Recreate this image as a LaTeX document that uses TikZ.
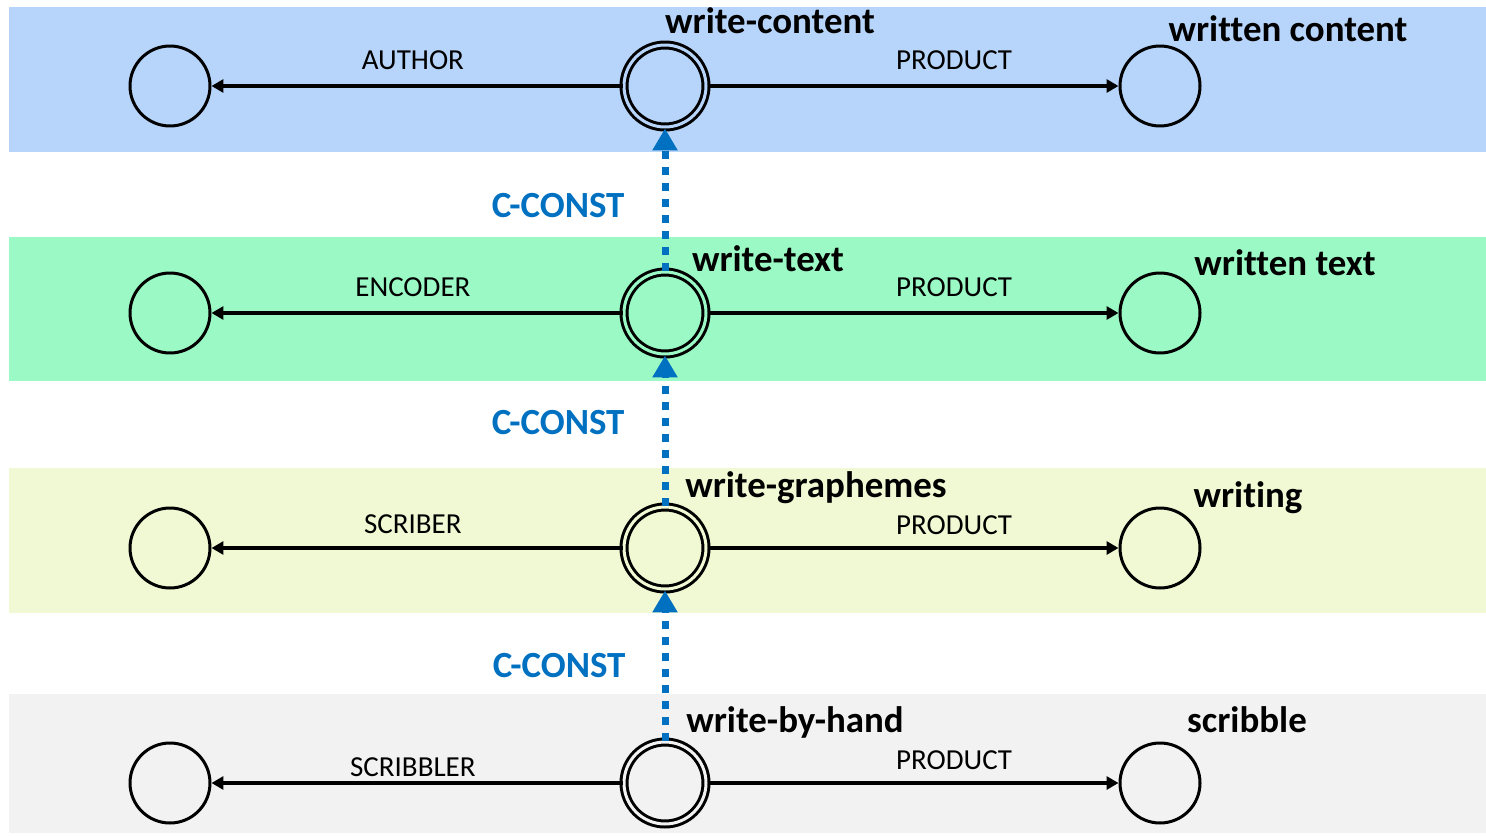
\documentclass[tikz,border=0pt]{standalone}
\usepackage{fontspec}
\setmainfont{Carlito}[Ligatures=NoCommon]
\usetikzlibrary{arrows.meta, positioning}

\definecolor{bandblue}{RGB}{183,213,250}
\definecolor{bandgreen}{RGB}{155,249,197}
\definecolor{bandyellow}{RGB}{240,249,211}
\definecolor{bandgray}{RGB}{242,242,242}
\definecolor{constblue}{RGB}{0,112,192}

\tikzset{
  role/.style={circle, draw, line width=0.06cm, minimum size=1.6cm, inner sep=0pt},
  event/.style={circle, draw, line width=0.06cm, double distance=0.06cm, minimum size=1.64cm, inner sep=0pt},
  link/.style={line width=0.065cm, -{Triangle[length=0.24cm, width=0.26cm]}},
  constlink/.style={constblue, line width=0.14cm, dash pattern=on 0.16cm off 0.16cm,
    -{Triangle[length=0.44cm, width=0.48cm]}},
  rolelabel/.style={inner sep=0pt, font=\fontsize{16.5}{18}\selectfont},
  title/.style={anchor=base, inner sep=0pt, font=\fontsize{21}{24}\selectfont\bfseries},
  constlabel/.style={inner sep=0pt, text=constblue, font=\fontsize{21}{24}\selectfont\bfseries},
}

\begin{document}
\begin{tikzpicture}[x=0.02cm, y=-0.02cm]
\useasboundingbox (0,0) rectangle (1486,835);

% layer bands
\fill[bandblue] (9,7) rectangle (1486,152);
\fill[bandgreen] (9,237) rectangle (1486,381);
\fill[bandyellow] (9,468) rectangle (1486,613);
\fill[bandgray] (9,694) rectangle (1486,833);

% content layer
\node[role] (A1) at (170,86) {};
\node[event, double=bandblue] (E1) at (665,86) {};
\node[role] (P1) at (1160,86) {};
\draw[link] (E1) -- (A1) node[pos=0.51, rolelabel, above=0.3cm] {AUTHOR};
\draw[link] (E1) -- (P1) node[pos=0.6, rolelabel, above=0.3cm] {PRODUCT};
\node[title] at (770,33) {write-content};
\node[title] at (1288,41) {written content};

% text layer
\node[role] (A2) at (170,313) {};
\node[event, double=bandgreen] (E2) at (665,313) {};
\node[role] (P2) at (1160,313) {};
\draw[link] (E2) -- (A2) node[pos=0.51, rolelabel, above=0.3cm] {ENCODER};
\draw[link] (E2) -- (P2) node[pos=0.6, rolelabel, above=0.3cm] {PRODUCT};
\node[title] at (768,271) {write-text};
\node[title] at (1285,275) {written text};

% grapheme layer
\node[role] (A3) at (170,548) {};
\node[event, double=bandyellow] (E3) at (665,548) {};
\node[role] (P3) at (1160,548) {};
\draw[link] (E3) -- (A3) node[pos=0.51, rolelabel, above=0.26cm] {SCRIBER};
\draw[link] (E3) -- (P3) node[pos=0.6, rolelabel, above=0.24cm] {PRODUCT};
\node[title] at (816,497) {write-graphemes};
\node[title] at (1248,507) {writing};

% hand layer
\node[role] (A4) at (170,783) {};
\node[event, double=bandgray] (E4) at (665,783) {};
\node[role] (P4) at (1160,783) {};
\draw[link] (E4) -- (A4) node[pos=0.51, rolelabel, above=0.1cm] {SCRIBBLER};
\draw[link] (E4) -- (P4) node[pos=0.6, rolelabel, above=0.24cm] {PRODUCT};
\node[title] at (795,732) {write-by-hand};
\node[title] at (1247,732) {scribble};

% constitution links
\draw[constlink] (E4.north) -- (E3.south) node[midway, constlabel, left=0.72cm] {C-CONST};
\draw[constlink] (E3.north) -- (E2.south) node[midway, constlabel, left=0.74cm, yshift=0.16cm] {C-CONST};
\draw[constlink] (E2.north) -- (E1.south) node[midway, constlabel, left=0.74cm, yshift=-0.12cm] {C-CONST};

\end{tikzpicture}
\end{document}
